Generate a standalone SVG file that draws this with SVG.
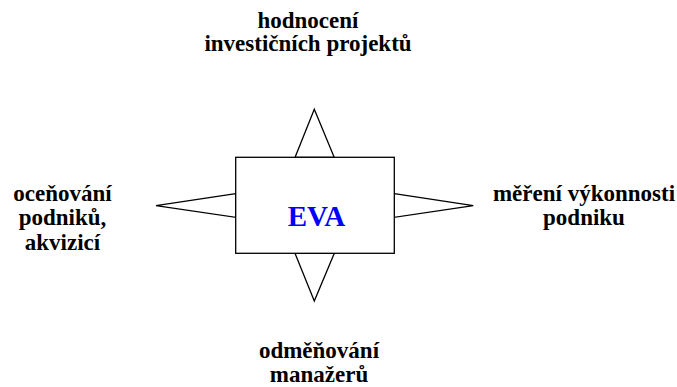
<svg xmlns="http://www.w3.org/2000/svg" width="677" height="387" viewBox="0 0 677 387" xml:lang="cs">
  <style>
    .shape { fill: #ffffff; stroke: #000000; stroke-width: 1.3; stroke-linejoin: miter; }
  </style>
  <rect width="677" height="387" fill="#ffffff"/>

  <!-- pointers drawn first so the box covers their bases -->
  <g id="connectors">
    <polygon class="shape" points="295,157.5 314.3,109.3 334.3,157.5"/>
    <polygon class="shape" points="295,253.3 314.3,301 334.3,253.3"/>
    <polygon class="shape" points="235.7,193.7 156,205.7 235.7,217.3"/>
    <polygon class="shape" points="394.3,193.7 473.3,205.7 394.3,217.3"/>
  </g>

  <g id="eva">
    <rect class="shape" x="235.7" y="157.3" width="158.6" height="96"/>
    <text x="316.5" y="226" font-family="'Times New Roman', 'Liberation Serif', serif" font-weight="bold" font-size="29" fill="#0000ff" text-anchor="middle">EVA</text>
  </g>

  <g id="investment">
    <text x="308" y="28" font-family="'Times New Roman', 'Liberation Serif', serif" font-weight="bold" font-size="23" text-anchor="middle">hodnocení</text>
    <text x="308" y="51" font-family="'Times New Roman', 'Liberation Serif', serif" font-weight="bold" font-size="23" text-anchor="middle">investičních projektů</text>
  </g>

  <g id="valuation">
    <text x="62.5" y="201" font-family="'Times New Roman', 'Liberation Serif', serif" font-weight="bold" font-size="23" text-anchor="middle">oceňování</text>
    <text x="62.5" y="225" font-family="'Times New Roman', 'Liberation Serif', serif" font-weight="bold" font-size="23" text-anchor="middle">podniků,</text>
    <text x="62.5" y="250" font-family="'Times New Roman', 'Liberation Serif', serif" font-weight="bold" font-size="23" text-anchor="middle">akvizicí</text>
  </g>

  <g id="performance">
    <text x="584" y="201" font-family="'Times New Roman', 'Liberation Serif', serif" font-weight="bold" font-size="23" text-anchor="middle">měření výkonnosti</text>
    <text x="584" y="225" font-family="'Times New Roman', 'Liberation Serif', serif" font-weight="bold" font-size="23" text-anchor="middle">podniku</text>
  </g>

  <g id="rewards">
    <text x="319" y="358" font-family="'Times New Roman', 'Liberation Serif', serif" font-weight="bold" font-size="23" text-anchor="middle">odměňování</text>
    <text x="319" y="382" font-family="'Times New Roman', 'Liberation Serif', serif" font-weight="bold" font-size="23" text-anchor="middle">manažerů</text>
  </g>
</svg>
